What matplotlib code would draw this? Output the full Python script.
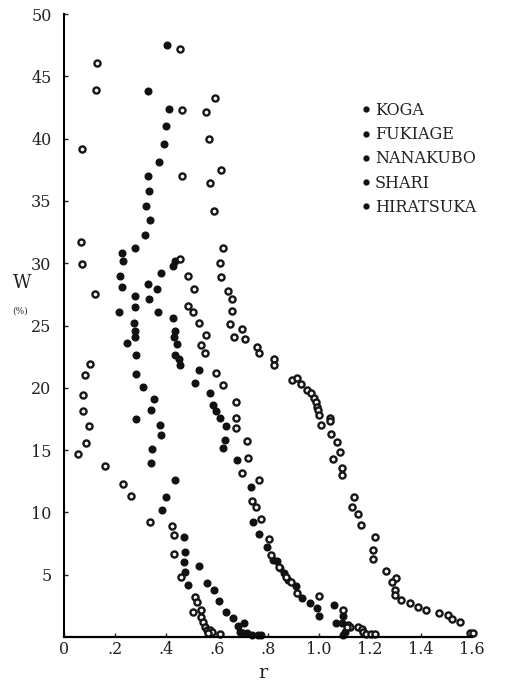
import matplotlib
matplotlib.use("Agg")
import matplotlib.pyplot as plt
from matplotlib.lines import Line2D

plt.rcParams['font.family'] = ['DejaVu Serif']

# r (x) and W in % (y), one list pair per site
koga_r = [0.129, 0.124, 0.071, 0.067, 0.071, 0.120, 0.101, 0.082, 0.073, 0.076,
          0.098, 0.086, 0.055, 0.162, 0.231, 0.263, 0.337, 0.425, 0.431, 0.431,
          0.460, 0.515, 0.522, 0.536, 0.507, 0.538, 0.546, 0.553, 0.559, 0.573,
          0.579, 0.563, 0.612]
koga_w = [46.1, 43.9, 39.2, 31.7, 29.9, 27.5, 21.9, 21.0, 19.4, 18.1,
          16.9, 15.6, 14.7, 13.7, 12.3, 11.3, 9.2, 8.9, 8.2, 6.7,
          4.8, 3.2, 2.8, 2.2, 2.0, 1.6, 1.2, 0.8, 0.56, 0.6,
          0.43, 0.3, 0.24]

fukiage_r = [0.405, 0.410, 0.400, 0.393, 0.374, 0.328, 0.331, 0.335, 0.323, 0.337,
             0.319, 0.278, 0.229, 0.231, 0.221, 0.229, 0.278, 0.278, 0.214, 0.273,
             0.280, 0.278, 0.247, 0.284, 0.284, 0.310, 0.353, 0.342, 0.284, 0.376,
             0.382, 0.346, 0.341, 0.434, 0.401, 0.383, 0.471, 0.476, 0.471, 0.475,
             0.485, 0.528, 0.560, 0.587, 0.609, 0.637, 0.661, 0.684, 0.705, 0.690,
             0.700, 0.716, 0.738, 0.761, 0.771]
fukiage_w = [47.5, 42.4, 41.0, 39.6, 38.1, 43.8, 37.0, 35.8, 34.6, 33.5,
             32.3, 31.2, 30.8, 30.2, 29.0, 28.1, 27.4, 26.5, 26.1, 25.2,
             24.6, 24.1, 23.6, 22.6, 21.1, 20.1, 19.1, 18.2, 17.5, 17.0,
             16.2, 15.1, 14.0, 12.6, 11.2, 10.2, 8.05, 6.8, 6.0, 5.2,
             4.2, 5.7, 4.3, 3.8, 2.9, 2.0, 1.5, 0.88, 1.15, 0.43,
             0.3, 0.29, 0.2, 0.18, 0.18]

nanakubo_r = [0.435, 0.429, 0.382, 0.329, 0.365, 0.332, 0.367, 0.427, 0.437, 0.433,
              0.444, 0.435, 0.451, 0.456, 0.531, 0.514, 0.571, 0.586, 0.596, 0.612,
              0.637, 0.630, 0.622, 0.677, 0.732, 0.740, 0.766, 0.797, 0.821, 0.834,
              0.847, 0.864, 0.877, 0.909, 0.932, 0.965, 0.991, 1.001, 1.059, 1.067,
              1.095, 1.089, 1.102, 1.095]
nanakubo_w = [30.2, 29.8, 29.2, 28.3, 27.9, 27.1, 26.1, 25.6, 24.6, 24.1,
              23.5, 22.6, 22.3, 21.8, 21.4, 20.4, 19.6, 18.6, 18.1, 17.6,
              16.9, 15.8, 15.2, 14.2, 12.0, 9.2, 8.3, 7.25, 6.2, 6.1,
              5.5, 5.1, 4.6, 4.1, 3.1, 2.75, 2.3, 1.7, 2.57, 1.1,
              1.7, 1.15, 0.43, 0.16]

shari_r = [0.456, 0.462, 0.461, 0.455, 0.485, 0.508, 0.486, 0.505, 0.529, 0.556,
           0.537, 0.554, 0.596, 0.625, 0.673, 0.673, 0.673, 0.716, 0.720, 0.698,
           0.763, 0.737, 0.753, 0.774, 0.805, 0.812, 0.842, 0.871, 0.889, 0.912,
           1.001, 1.095, 1.115, 1.122, 1.109, 1.154, 1.167, 1.174, 1.184, 1.203,
           1.220]
shari_w = [47.2, 42.3, 37.0, 30.3, 29.0, 27.9, 26.6, 26.1, 25.2, 24.2,
           23.4, 22.8, 21.2, 20.2, 18.9, 17.6, 16.8, 15.7, 14.4, 13.2,
           12.6, 10.9, 10.4, 9.5, 7.9, 6.6, 5.6, 4.85, 4.4, 3.5,
           3.3, 2.2, 0.96, 0.83, 0.78, 0.83, 0.61, 0.43, 0.24, 0.24,
           0.24]

hiratsuka_r = [0.592, 0.558, 0.569, 0.614, 0.573, 0.587, 0.622, 0.612, 0.614, 0.642,
               0.659, 0.658, 0.650, 0.698, 0.668, 0.711, 0.756, 0.763, 0.822, 0.825,
               0.895, 0.912, 0.929, 0.954, 0.969, 0.980, 0.987, 0.991, 0.995, 0.999,
               1.043, 1.043, 1.008, 1.047, 1.071, 1.082, 1.055, 1.091, 1.089, 1.139,
               1.129, 1.154, 1.165, 1.221, 1.210, 1.213, 1.264, 1.301, 1.285, 1.298,
               1.298, 1.320, 1.357, 1.390, 1.418, 1.472, 1.506, 1.520, 1.553, 1.592,
               1.605]
hiratsuka_w = [43.3, 42.1, 40.0, 37.5, 36.4, 34.2, 31.2, 30.0, 28.9, 27.8,
               27.1, 26.2, 25.1, 24.7, 24.1, 23.9, 23.3, 22.8, 22.3, 21.8,
               20.6, 20.8, 20.3, 19.8, 19.6, 19.2, 18.9, 18.5, 18.2, 17.8,
               17.6, 17.3, 17.0, 16.3, 15.65, 14.85, 14.3, 13.6, 13.0, 11.2,
               10.4, 9.9, 9.0, 8.0, 7.0, 6.3, 5.3, 4.7, 4.4, 3.8,
               3.4, 3.0, 2.7, 2.4, 2.2, 1.95, 1.77, 1.47, 1.18, 0.29,
               0.29]

sites = ["KOGA", "FUKIAGE", "NANAKUBO", "SHARI", "HIRATSUKA"]
series = [(koga_r, koga_w), (fukiage_r, fukiage_w), (nanakubo_r, nanakubo_w),
          (shari_r, shari_w), (hiratsuka_r, hiratsuka_w)]
open_marker = [True, False, False, True, True]

x_ticks = [0, 0.2, 0.4, 0.6, 0.8, 1.0, 1.2, 1.4, 1.6]
x_labels = ["0", ".2", ".4", ".6", ".8", "1.0", "1.2", "1.4", "1.6"]
y_ticks = [5, 10, 15, 20, 25, 30, 35, 40, 45, 50]

fig = plt.figure(figsize=(5.06, 6.81), dpi=100)
ax = fig.add_axes([0.1265, 0.0646, 0.8063, 0.9148])

for (r, w), is_open in zip(series, open_marker):
    if is_open:
        # scanned rings: thick dark edge, small light centre
        ax.plot(r, w, 'o', ms=4.4, mfc='#f2f2f2', mec='#151515', mew=1.7,
                ls='none', clip_on=False)
    else:
        ax.plot(r, w, 'o', ms=4.8, color='#111111', ls='none', clip_on=False)

ax.set_xlim(0, 1.6)
ax.set_ylim(0, 50)
ax.spines['top'].set_visible(False)
ax.spines['right'].set_visible(False)
ax.spines['left'].set_linewidth(1.5)
ax.spines['bottom'].set_linewidth(1.6)

ax.set_xticks(x_ticks)
ax.set_xticklabels(x_labels)
ax.set_yticks(y_ticks)
ax.tick_params(direction='in', length=3, width=1, labelsize=11.5, colors='#222222')
ax.tick_params(axis='x', pad=3)
ax.tick_params(axis='y', pad=9)

fig.text(22 / 506, 1 - 283 / 681, "W", fontsize=13, ha='center', va='center', color='#222222')
fig.text(20 / 506, 1 - 311 / 681, "(%)", fontsize=6.5, ha='center', va='center', color='#333333')
fig.text(263 / 506, 1 - 673 / 681, "r", fontsize=14, ha='center', va='center', color='#222222')

handles = [Line2D([], [], marker='o', ms=3.5, color='#111111', ls='none') for _ in sites]
ax.legend(handles, sites, loc='upper left', bbox_to_anchor=(362 / 506, 1 - 102 / 681),
          bbox_transform=fig.transFigure, frameon=False, fontsize=11.5,
          handlelength=0.5, handletextpad=0.3, labelspacing=0.45, borderpad=0,
          borderaxespad=0, labelcolor='#222222')

fig.savefig("out.png", dpi=100)
